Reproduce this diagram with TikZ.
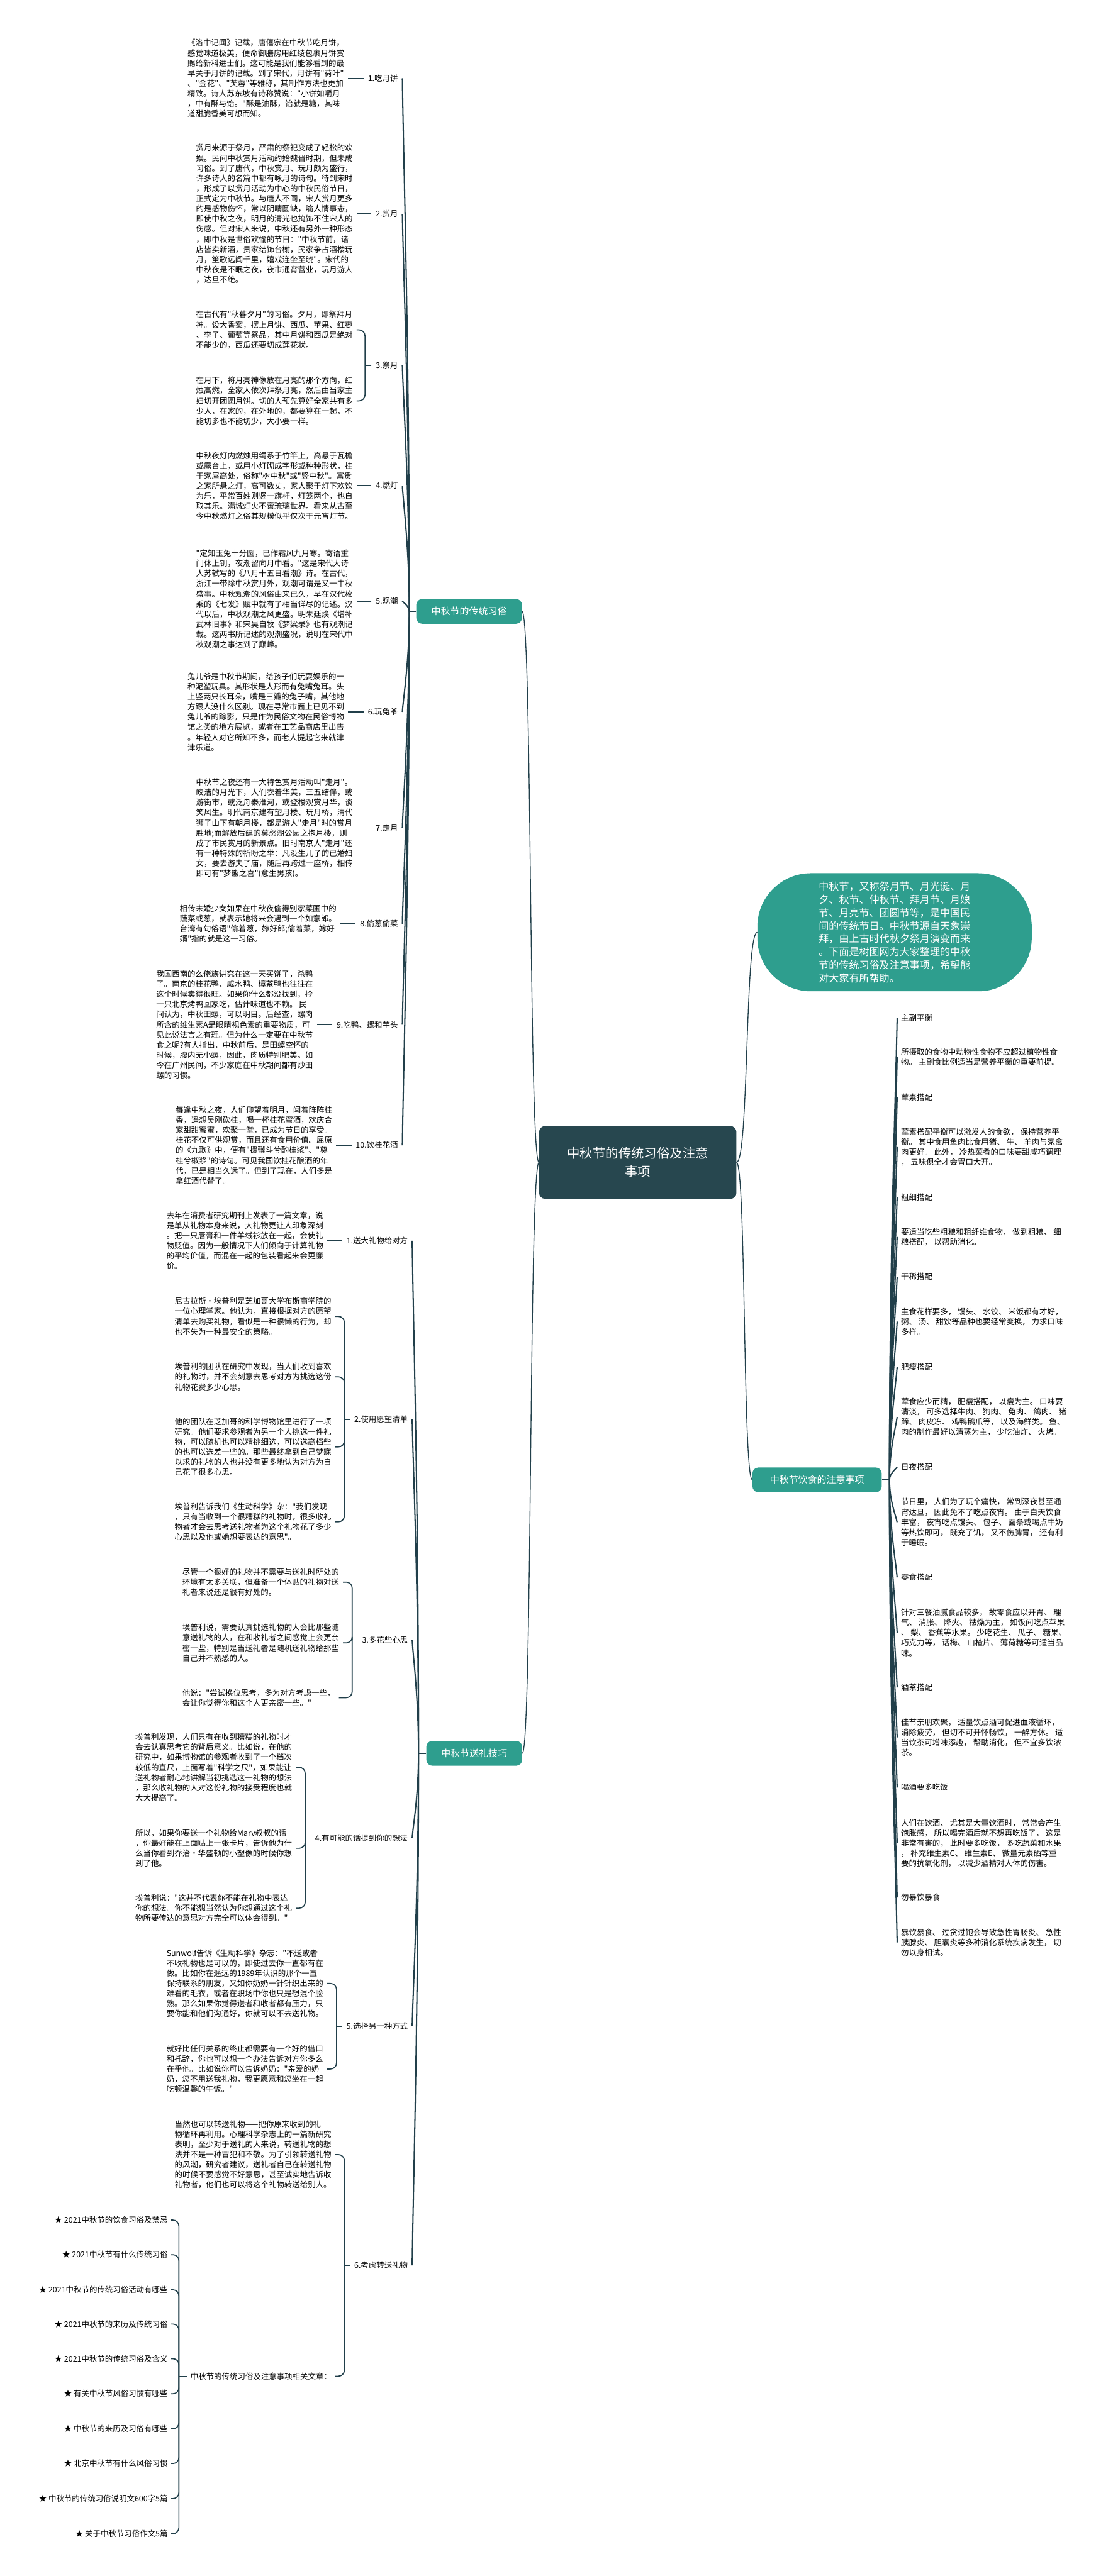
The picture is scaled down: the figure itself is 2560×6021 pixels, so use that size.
\documentclass[tikz,border=0pt]{standalone}
\usepackage{fontspec}
\setmainfont{Noto Sans CJK SC}[Ligatures=TeXOff]
\usepackage{tikz}
\usetikzlibrary{positioning, calc}

\definecolor{linkc}{HTML}{213F4A}
\definecolor{tealnode}{HTML}{2E9E8E}
\definecolor{rootc}{HTML}{27474F}

\begin{document}
\begin{tikzpicture}[
    x=1pt, y=-1pt,
    every node/.style={font=\fontsize{18.3}{23.7}\selectfont, inner ysep=0pt},
    root/.style={fill=rootc, text=white, rounded corners=14pt, align=center, font=\fontsize{30}{42}\selectfont, minimum width=461pt, minimum height=170pt},
    topic/.style={fill=tealnode, text=white, rounded corners=14pt, font=\fontsize{22}{26}\selectfont, minimum height=58pt, minimum width=#1},
    intro/.style={fill=tealnode, text=white, rounded corners=125pt, align=left, font=\fontsize{23.6}{30.7}\selectfont, minimum width=641pt, minimum height=276pt},
    lab/.style={anchor=east, inner xsep=10pt},
    labR/.style={anchor=west, inner xsep=9pt},
    txt/.style={anchor=west, align=left, inner xsep=9pt},
    item/.style={anchor=east, inner xsep=7pt},
    wire/.style={draw=linkc, line width=2.5pt},
    brace/.style={draw=linkc, line width=2.5pt, rounded corners=14pt},
    trunk/.style={draw=linkc, line width=3pt, to path={.. controls ($(\tikztostart)!0.5!(\tikztostart|-\tikztotarget)$) and ($(\tikztotarget)!0.15!(\tikztostart)$) .. (\tikztotarget)}},
    link/.style={draw=linkc, line width=2pt, to path={.. controls ($(\tikztostart)!0.6!(\tikztotarget|-\tikztostart)$) and ($(\tikztotarget)!0.6!(\tikztostart|-\tikztotarget)$) .. (\tikztotarget)}},
  ]

  \fill[white] (0,0) rectangle (2560,6021);
  \useasboundingbox (0,0) rectangle (2560,6021);

  % ---- centre and main topics ----
  \node[root] (root) at (1490,2717) {中秋节的传统习俗及注意\\事项};
  \node[topic=247pt] (trad) at (1096,1429) {中秋节的传统习俗};
  \node[topic=224pt] (gift) at (1108,4098) {中秋节送礼技巧};
  \node[topic=302pt] (diet) at (1909,3459) {中秋节饮食的注意事项};
  \node[intro] (desc) at (2090,2179) {中秋节，又称祭月节、月光诞、月\\夕、秋节、仲秋节、拜月节、月娘\\节、月亮节、团圆节等，是中国民\\间的传统节日。中秋节源自天象崇\\拜，由上古时代秋夕祭月演变而来\\。下面是树图网为大家整理的中秋\\节的传统习俗及注意事项，希望能\\对大家有所帮助。};

  \draw[link] (root.west) to (trad.east);
  \draw[link] (root.west) to (gift.east);
  \draw[link] (root.east) to (desc.west);
  \draw[link] (root.east) to (diet.west);

  % ---- 传统习俗 ----
  \coordinate (tA) at ([xshift=-16pt]trad.west);
  \draw[wire] (trad.west) -- (tA);

  \node[lab] (a1) at (940,183) {1.吃月饼};
  \node[lab] (a2) at (940,500) {2.赏月};
  \node[lab] (a3) at (940,854) {3.祭月};
  \node[lab] (a4) at (940,1135) {4.燃灯};
  \node[lab] (a5) at (940,1405) {5.观潮};
  \node[lab] (a6) at (940,1664) {6.玩兔爷};
  \node[lab] (a7) at (940,1935) {7.走月};
  \node[lab] (a8) at (940,2159) {8.偷葱偷菜};
  \node[lab] (a9) at (940,2395) {9.吃鸭、螺和芋头};
  \node[lab] (a10) at (940,2677) {10.饮桂花酒};

  \foreach \k in {1,...,10} {\draw[trunk] (tA) to (a\k.east);}

  \node[txt] (t1) at (429,183) {《洛中记闻》记载，唐僖宗在中秋节吃月饼，\\感觉味道极美，便命御膳房用红绫包裹月饼赏\\赐给新科进士们。这可能是我们能够看到的最\\早关于月饼的记载。到了宋代，月饼有"荷叶"\\、"金花"、"芙蓉"等雅称，其制作方法也更加\\精致。诗人苏东坡有诗称赞说："小饼如嚼月\\，中有酥与饴。"酥是油酥，饴就是糖，其味\\道甜脆香美可想而知。};
  \node[txt] (t2) at (449,500) {赏月来源于祭月，严肃的祭祀变成了轻松的欢\\娱。民间中秋赏月活动约始魏晋时期，但未成\\习俗。到了唐代，中秋赏月、玩月颇为盛行，\\许多诗人的名篇中都有咏月的诗句。待到宋时\\，形成了以赏月活动为中心的中秋民俗节日，\\正式定为中秋节。与唐人不同，宋人赏月更多\\的是感物伤怀，常以阴晴圆缺，喻人情事态，\\即使中秋之夜，明月的清光也掩饰不住宋人的\\伤感。但对宋人来说，中秋还有另外一种形态\\，即中秋是世俗欢愉的节日："中秋节前，诸\\店皆卖新酒，贵家结饰台榭，民家争占酒楼玩\\月，笙歌远闻千里，嬉戏连坐至晓"。宋代的\\中秋夜是不眠之夜，夜市通宵营业，玩月游人\\，达旦不绝。};
  \node[txt] (t3a) at (449,771) {在古代有"秋暮夕月"的习俗。夕月，即祭拜月\\神。设大香案，摆上月饼、西瓜、苹果、红枣\\、李子、葡萄等祭品，其中月饼和西瓜是绝对\\不能少的，西瓜还要切成莲花状。};
  \node[txt] (t3b) at (449,937) {在月下，将月亮神像放在月亮的那个方向，红\\烛高燃，全家人依次拜祭月亮，然后由当家主\\妇切开团圆月饼。切的人预先算好全家共有多\\少人，在家的，在外地的，都要算在一起，不\\能切多也不能切少，大小要一样。};
  \node[txt] (t4) at (449,1136) {中秋夜灯内燃烛用绳系于竹竿上，高悬于瓦檐\\或露台上，或用小灯砌成字形或种种形状，挂\\于家屋高处，俗称"树中秋"或"竖中秋"。富贵\\之家所悬之灯，高可数丈，家人聚于灯下欢饮\\为乐，平常百姓则竖一旗杆，灯笼两个，也自\\取其乐。满城灯火不啻琉璃世界。看来从古至\\今中秋燃灯之俗其规模似乎仅次于元宵灯节。};
  \node[txt] (t5) at (449,1400) {"定知玉兔十分圆，已作霜风九月寒。寄语重\\门休上钥，夜潮留向月中看。"这是宋代大诗\\人苏轼写的《八月十五日看潮》诗。在古代，\\浙江一带除中秋赏月外，观潮可谓是又一中秋\\盛事。中秋观潮的风俗由来已久，早在汉代枚\\乘的《七发》赋中就有了相当详尽的记述。汉\\代以后，中秋观潮之风更盛。明朱廷焕《增补\\武林旧事》和宋吴自牧《梦粱录》也有观潮记\\载。这两书所记述的观潮盛况，说明在宋代中\\秋观潮之事达到了巅峰。};
  \node[txt] (t6) at (429,1664) {兔儿爷是中秋节期间，给孩子们玩耍娱乐的一\\种泥塑玩具。其形状是人形而有兔嘴兔耳。头\\上竖两只长耳朵，嘴是三瓣的兔子嘴，其他地\\方跟人没什么区别。现在寻常市面上已见不到\\兔儿爷的踪影，只是作为民俗文物在民俗博物\\馆之类的地方展览，或者在工艺品商店里出售\\。年轻人对它所知不多，而老人提起它来就津\\津乐道。};
  \node[txt] (t7) at (449,1936) {中秋节之夜还有一大特色赏月活动叫"走月"。\\皎洁的月光下，人们衣着华美，三五结伴，或\\游街市，或泛舟秦淮河，或登楼观赏月华，谈\\笑风生。明代南京建有望月楼、玩月桥，清代\\狮子山下有朝月楼，都是游人"走月"时的赏月\\胜地;而解放后建的莫愁湖公园之抱月楼，则\\成了市民赏月的新景点。旧时南京人"走月"还\\有一种特殊的祈盼之举：凡没生儿子的已婚妇\\女，要去游夫子庙，随后再跨过一座桥，相传\\即可有"梦熊之喜"(意生男孩)。};
  \node[txt] (t8) at (411,2159) {相传未婚少女如果在中秋夜偷得别家菜圃中的\\蔬菜或葱，就表示她将来会遇到一个如意郎。\\台湾有句俗语"偷着葱，嫁好郎;偷着菜，嫁好\\婿"指的就是这一习俗。};
  \node[txt] (t9) at (356,2395) {我国西南的么佬族讲究在这一天买饼子，杀鸭\\子。南京的桂花鸭、咸水鸭、樟茶鸭也往往在\\这个时候卖得很旺。如果你什么都没找到，拎\\一只北京烤鸭回家吃，估计味道也不赖。 民\\间认为，中秋田螺，可以明目。后经查，螺肉\\所含的维生素A是眼睛视色素的重要物质，可\\见此说法言之有理。但为什么一定要在中秋节\\食之呢?有人指出，中秋前后，是田螺空怀的\\时候，腹内无小螺，因此，肉质特别肥美。如\\今在广州民间，不少家庭在中秋期间都有炒田\\螺的习惯。};
  \node[txt] (t10) at (401,2677) {每逢中秋之夜，人们仰望着明月，闻着阵阵桂\\香，遥想吴刚砍桂，喝一杯桂花蜜酒，欢庆合\\家甜甜蜜蜜，欢聚一堂，已成为节日的享受。\\桂花不仅可供观赏，而且还有食用价值。屈原\\的《九歌》中，便有"援骥斗兮酌桂浆"、"奠\\桂兮椒浆"的诗句。可见我国饮桂花酿酒的年\\代，已是相当久远了。但到了现在，人们多是\\拿红酒代替了。};

  \draw[wire] (a1.west) -- (a1.west -| t1.east);
  \draw[wire] (a2.west) -- (a2.west -| t2.east);
  \draw[wire] (a4.west) -- (a4.west -| t4.east);
  \draw[wire] (a5.west) -- (a5.west -| t5.east);
  \draw[wire] (a6.west) -- (a6.west -| t6.east);
  \draw[wire] (a7.west) -- (a7.west -| t7.east);
  \draw[wire] (a8.west) -- (a8.west -| t8.east);
  \draw[wire] (a9.west) -- (a9.west -| t9.east);
  \draw[wire] (a10.west) -- (a10.west -| t10.east);

  \coordinate (j3) at ([xshift=-15pt]a3.west);
  \draw[wire] (a3.west) -- (j3);
  \draw[brace] (j3) |- (t3a.east);
  \draw[brace] (j3) |- (t3b.east);

  % ---- 送礼技巧 ----
  \coordinate (tB) at ([xshift=-18pt]gift.west);
  \draw[wire] (gift.west) -- (tB);

  \node[lab] (b1) at (963,2900) {1.送大礼物给对方};
  \node[lab] (b2) at (963,3318) {2.使用愿望清单};
  \node[lab] (b3) at (963,3833) {3.多花些心思};
  \node[lab] (b4) at (963,4296) {4.有可能的话提到你的想法};
  \node[lab] (b5) at (963,4736) {5.选择另一种方式};
  \node[lab] (b6) at (963,5295) {6.考虑转送礼物};

  \foreach \k in {1,...,6} {\draw[trunk] (tB) to (b\k.east);}

  \node[txt] (s1) at (380,2900) {去年在消费者研究期刊上发表了一篇文章，说\\是单从礼物本身来说，大礼物更让人印象深刻\\。把一只唇膏和一件羊绒衫放在一起，会使礼\\物贬值。因为一般情况下人们倾向于计算礼物\\的平均价值，而混在一起的包装看起来会更廉\\价。};
  \node[txt] (s2a) at (399,3077) {尼古拉斯·埃普利是芝加哥大学布斯商学院的\\一位心理学家。他认为，直接根据对方的愿望\\清单去购买礼物，看似是一种很懒的行为，却\\也不失为一种最安全的策略。};
  \node[txt] (s2b) at (399,3218) {埃普利的团队在研究中发现，当人们收到喜欢\\的礼物时，并不会刻意去思考对方为挑选这份\\礼物花费多少心思。};
  \node[txt] (s2c) at (399,3382) {他的团队在芝加哥的科学博物馆里进行了一项\\研究。他们要求参观者为另一个人挑选一件礼\\物，可以随机也可以精挑细选，可以选高档些\\的也可以选差一些的。那些最终拿到自己梦寐\\以求的礼物的人也并没有更多地认为对方为自\\己花了很多心思。};
  \node[txt] (s2d) at (399,3557) {埃普利告诉我们《生动科学》杂："我们发现\\，只有当收到一个很糟糕的礼物时，很多收礼\\物者才会去思考送礼物者为这个礼物花了多少\\心思以及他或她想要表达的意思"。};
  \node[txt] (s3a) at (417,3698) {尽管一个很好的礼物并不需要与送礼时所处的\\环境有太多关联，但准备一个体贴的礼物对送\\礼者来说还是很有好处的。};
  \node[txt] (s3b) at (417,3840) {埃普利说，需要认真挑选礼物的人会比那些随\\意送礼物的人，在和收礼者之间感觉上会更亲\\密一些，特别是当送礼者是随机送礼物给那些\\自己并不熟悉的人。};
  \node[txt] (s3c) at (417,3968) {他说："尝试换位思考，多为对方考虑一些，\\会让你觉得你和这个人更亲密一些。"};
  \node[txt] (s4a) at (307,4131) {埃普利发现，人们只有在收到糟糕的礼物时才\\会去认真思考它的背后意义。比如说，在他的\\研究中，如果博物馆的参观者收到了一个档次\\较低的直尺，上面写着"科学之尺"，如果能让\\送礼物者耐心地讲解当初挑选这一礼物的想法\\，那么收礼物的人对这份礼物的接受程度也就\\大大提高了。};
  \node[txt] (s4b) at (307,4320) {所以，如果你要送一个礼物给Marv叔叔的话\\，你最好能在上面贴上一张卡片，告诉他为什\\么当你看到乔治·华盛顿的小塑像的时候你想\\到了他。};
  \node[txt] (s4c) at (307,4460) {埃普利说："这并不代表你不能在礼物中表达\\你的想法。你不能想当然认为你想通过这个礼\\物所要传达的意思对方完全可以体会得到。"};
  \node[txt] (s5a) at (380,4636) {Sunwolf告诉《生动科学》杂志："不送或者\\不收礼物也是可以的，即使过去你一直都有在\\做。比如你在遥远的1989年认识的那个一直\\保持联系的朋友，又如你奶奶一针针织出来的\\难看的毛衣，或者在职场中你也只是想混个脸\\熟。那么如果你觉得送者和收者都有压力，只\\要你能和他们沟通好，你就可以不去送礼物。};
  \node[txt] (s5b) at (380,4836) {就好比任何关系的终止都需要有一个好的借口\\和托辞，你也可以想一个办法告诉对方你多么\\在乎他。比如说你可以告诉奶奶："亲爱的奶\\奶，您不用送我礼物，我更愿意和您坐在一起\\吃顿温馨的午饭。"};
  \node[txt] (s6a) at (399,5036) {当然也可以转送礼物——把你原来收到的礼\\物循环再利用。心理科学杂志上的一篇新研究\\表明，至少对于送礼的人来说，转送礼物的想\\法并不是一种冒犯和不敬。为了引领转送礼物\\的风潮，研究者建议，送礼者自己在转送礼物\\的时候不要感觉不好意思，甚至诚实地告诉收\\礼物者，他们也可以将这个礼物转送给别人。};
  \node[txt] (s6b) at (436,5554) {中秋节的传统习俗及注意事项相关文章：};

  \draw[wire] (b1.west) -- (b1.west -| s1.east);

  \coordinate (j2) at ([xshift=-13pt]b2.west);
  \draw[wire] (b2.west) -- (j2);
  \draw[brace] (j2) |- (s2a.east);
  \draw[brace] (j2) |- (s2b.east);
  \draw[brace] (j2) |- (s2c.east);
  \draw[brace] (j2) |- (s2d.east);

  \coordinate (j3b) at ([xshift=-13pt]b3.west);
  \draw[wire] (b3.west) -- (j3b);
  \draw[brace] (j3b) |- (s3a.east);
  \draw[brace] (j3b) |- (s3b.east);
  \draw[brace] (j3b) |- (s3c.east);

  \coordinate (j4) at ([xshift=-13pt]b4.west);
  \draw[wire] (b4.west) -- (j4);
  \draw[brace] (j4) |- (s4a.east);
  \draw[brace] (j4) |- (s4b.east);
  \draw[brace] (j4) |- (s4c.east);

  \coordinate (j5) at ([xshift=-13pt]b5.west);
  \draw[wire] (b5.west) -- (j5);
  \draw[brace] (j5) |- (s5a.east);
  \draw[brace] (j5) |- (s5b.east);

  \coordinate (j6) at ([xshift=-13pt]b6.west);
  \draw[wire] (b6.west) -- (j6);
  \draw[brace] (j6) |- (s6a.east);
  \draw[brace] (j6) |- (s6b.east);

  % ---- related articles ----
  \node[item] (c1) at (399,5189) {★ 2021中秋节的饮食习俗及禁忌};
  \node[item] (c2) at (399,5270) {★ 2021中秋节有什么传统习俗};
  \node[item] (c3) at (399,5352) {★ 2021中秋节的传统习俗活动有哪些};
  \node[item] (c4) at (399,5432) {★ 2021中秋节的来历及传统习俗};
  \node[item] (c5) at (399,5513) {★ 2021中秋节的传统习俗及含义};
  \node[item] (c6) at (399,5595) {★ 有关中秋节风俗习惯有哪些};
  \node[item] (c7) at (399,5677) {★ 中秋节的来历及习俗有哪些};
  \node[item] (c8) at (399,5758) {★ 北京中秋节有什么风俗习惯};
  \node[item] (c9) at (399,5840) {★ 中秋节的传统习俗说明文600字5篇};
  \node[item] (c10) at (399,5922) {★ 关于中秋节习俗作文5篇};

  \coordinate (jc) at ([xshift=-18pt]s6b.west);
  \draw[wire] (s6b.west) -- (jc);
  \foreach \k in {1,...,10} {\draw[brace] (jc) |- (c\k.east);}

  % ---- 饮食注意事项 ----
  \coordinate (tC) at ([xshift=18pt]diet.east);
  \draw[wire] (diet.east) -- (tC);

  \node[labR] (r1) at (2096,2379) {主副平衡};
  \node[txt] (r2) at (2096,2471) {所摄取的食物中动物性食物不应超过植物性食\\物。 主副食比例适当是营养平衡的重要前提。};
  \node[labR] (r3) at (2096,2564) {荤素搭配};
  \node[txt] (r4) at (2096,2681) {荤素搭配平衡可以激发人的食欲， 保持营养平\\衡。 其中食用鱼肉比食用猪、 牛、 羊肉与家禽\\肉更好。 此外， 冷热菜肴的口味要甜咸巧调理\\， 五味俱全才会胃口大开。};
  \node[labR] (r5) at (2096,2798) {粗细搭配};
  \node[txt] (r6) at (2096,2891) {要适当吃些粗粮和粗纤维食物， 做到粗粮、 细\\粮搭配， 以帮助消化。};
  \node[labR] (r7) at (2096,2984) {干稀搭配};
  \node[txt] (r8) at (2096,3089) {主食花样要多， 馒头、 水饺、 米饭都有才好，\\粥、 汤、 甜饮等品种也要经常变换， 力求口味\\多样。};
  \node[labR] (r9) at (2096,3195) {肥瘦搭配};
  \node[txt] (r10) at (2096,3312) {荤食应少而精， 肥瘦搭配， 以瘦为主。 口味要\\清淡， 可多选择牛肉、 狗肉、 兔肉、 鸽肉、 猪\\蹄、 肉皮冻、 鸡鸭鹅爪等， 以及海鲜类。 鱼、\\肉的制作最好以清蒸为主， 少吃油炸、 火烤。};
  \node[labR] (r11) at (2096,3429) {日夜搭配};
  \node[txt] (r12) at (2096,3558) {节日里， 人们为了玩个痛快， 常到深夜甚至通\\宵达旦， 因此免不了吃点夜宵。 由于白天饮食\\丰富， 夜宵吃点馒头、 包子、 面条或喝点牛奶\\等热饮即可， 既充了饥， 又不伤脾胃， 还有利\\于睡眠。};
  \node[labR] (r13) at (2096,3687) {零食搭配};
  \node[txt] (r14) at (2096,3816) {针对三餐油腻食品较多， 故零食应以开胃、 理\\气、 消胀、 降火、 祛燥为主， 如饭间吃点苹果\\、 梨、 香蕉等水果。 少吃花生、 瓜子、 糖果、\\巧克力等， 话梅、 山楂片、 薄荷糖等可适当品\\味。};
  \node[labR] (r15) at (2096,3944) {酒茶搭配};
  \node[txt] (r16) at (2096,4061) {佳节亲朋欢聚， 适量饮点酒可促进血液循环，\\消除疲劳， 但切不可开怀畅饮， 一醉方休。 适\\当饮茶可增味添趣， 帮助消化， 但不宜多饮浓\\茶。};
  \node[labR] (r17) at (2096,4178) {喝酒要多吃饭};
  \node[txt] (r18) at (2096,4308) {人们在饮酒、 尤其是大量饮酒时， 常常会产生\\饱胀感， 所以喝完酒后就不想再吃饭了， 这是\\非常有害的， 此时要多吃饭， 多吃蔬菜和水果\\， 补充维生素C、 维生素E、 微量元素硒等重\\要的抗氧化剂， 以减少酒精对人体的伤害。};
  \node[labR] (r19) at (2096,4435) {勿暴饮暴食};
  \node[txt] (r20) at (2096,4540) {暴饮暴食、 过贪过饱会导致急性胃肠炎、 急性\\胰腺炎、 胆囊炎等多种消化系统疾病发生， 切\\勿以身相试。};

  \foreach \k in {1,...,20} {\draw[trunk] (tC) to (r\k.west);}

\end{tikzpicture}
\end{document}
